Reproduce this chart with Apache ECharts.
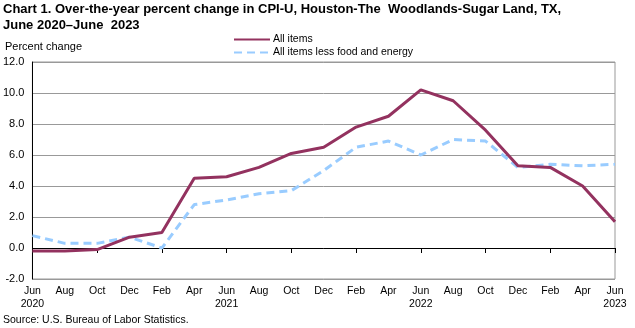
<!DOCTYPE html>
<html><head><meta charset="utf-8">
<script src="https://cdn.jsdelivr.net/npm/echarts@6/dist/echarts.min.js"></script>
<style>html,body{margin:0;padding:0;background:#fff}#c{width:635px;height:328px}</style>
</head><body><div id="c"></div>
<script>
var categories = ['Jun\n2020','Aug','Oct','Dec','Feb','Apr','Jun\n2021','Aug','Oct','Dec','Feb','Apr','Jun\n2022','Aug','Oct','Dec','Feb','Apr','Jun\n2023'];
var allItems = [-0.2,-0.2,-0.1,0.7,1.0,4.5,4.6,5.2,6.1,6.5,7.8,8.5,10.2,9.5,7.6,5.3,5.2,4.0,1.7];
var lessFoodEnergy = [0.8,0.3,0.3,0.7,0.0,2.8,3.1,3.5,3.7,5.0,6.5,6.9,6.0,7.0,6.9,5.2,5.4,5.3,5.4];
var seriesNames = ['All items','All items less food and energy'];
var titleText = 'Chart 1. Over-the-year percent change in CPI-U, Houston-The  Woodlands-Sugar Land, TX,\nJune 2020\u2013June  2023';
var yAxisName = 'Percent change';
var sourceText = 'Source: U.S. Bureau of Labor Statistics.';

var FONT = '"Liberation Sans Narrow", "Liberation Sans", Arial, sans-serif';
var chart = echarts.init(document.getElementById('c'), null, {renderer:'canvas'});
chart.setOption({
  animation:false,
  textStyle:{fontFamily:FONT},
  title:[{
    text:titleText, left:3, top:1, padding:0,
    textStyle:{fontFamily:FONT, fontWeight:'bold', fontSize:13, color:'#000', lineHeight:16}
  },{
    text:sourceText, left:3, top:315, padding:0,
    textStyle:{fontFamily:FONT, fontWeight:'normal', fontSize:10.5, color:'#000'}
  },{
    text:yAxisName, left:5, top:41, padding:0,
    textStyle:{fontFamily:FONT, fontWeight:'normal', fontSize:11, color:'#000'}
  }],
  legend:{
    orient:'vertical', left:233, top:34, padding:0, itemGap:2, itemWidth:36, itemHeight:10,
    itemStyle:{opacity:0},
    textStyle:{fontFamily:FONT, fontSize:10.5, color:'#000', padding:[0,0,0,-2]},
    data:seriesNames
  },
  grid:{left:32, right:20, top:62, bottom:49, show:true, borderColor:'#999', borderWidth:1},
  xAxis:[{
    type:'category', data:categories, boundaryGap:false, position:'bottom',
    axisLine:{onZero:true, lineStyle:{color:'#000', width:1}},
    axisTick:{show:true, length:5, lineStyle:{color:'#000'}},
    axisLabel:{show:false},
    splitLine:{show:false}
  },{
    type:'category', data:categories, boundaryGap:false, position:'bottom',
    axisLine:{show:false, onZero:false},
    axisTick:{show:false},
    axisLabel:{show:true, interval:0, margin:6, fontFamily:FONT, fontSize:10.5, color:'#000', lineHeight:13},
    splitLine:{show:false}
  }],
  yAxis:{
    type:'value', min:-2, max:12, interval:2,
    axisLine:{show:true, onZero:false, lineStyle:{color:'#000'}},
    axisTick:{show:false},
    axisLabel:{formatter:function(v){return v.toFixed(1);}, fontFamily:FONT, fontSize:11, color:'#000', margin:8},
    splitLine:{show:true, lineStyle:{color:'#999', width:1}}
  },
  series:[{
    name:seriesNames[0], type:'line', data:allItems, showSymbol:false, symbol:'none',
    lineStyle:{color:'#93325F', width:3}, itemStyle:{color:'#93325F'}, z:3
  },{
    name:seriesNames[1], type:'line', data:lessFoodEnergy, showSymbol:false, symbol:'none',
    lineStyle:{color:'#99CCFF', width:3, type:[8,5]}, itemStyle:{color:'#99CCFF'}, z:2
  }]
});
</script></body></html>
